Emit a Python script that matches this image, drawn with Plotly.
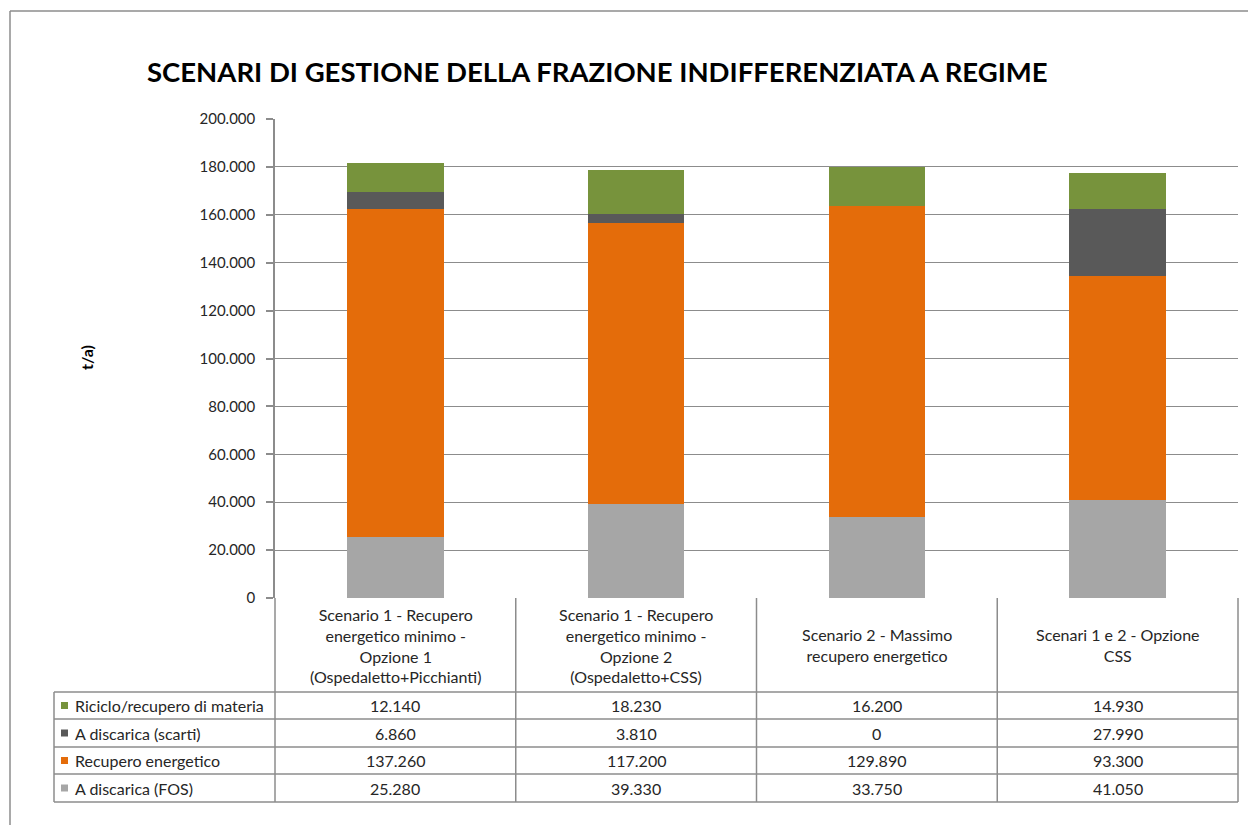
import plotly.graph_objects as go

# --- data -------------------------------------------------------------
CATEGORIES = [
    "Scenario 1 - Recupero<br>energetico minimo -<br>Opzione 1<br>(Ospedaletto+Picchianti)",
    "Scenario 1 - Recupero<br>energetico minimo -<br>Opzione 2<br>(Ospedaletto+CSS)",
    "Scenario 2 - Massimo<br>recupero energetico",
    "Scenari 1 e 2 - Opzione<br>CSS",
]
SERIES_NAMES = [
    "Riciclo/recupero di materia",
    "A discarica (scarti)",
    "Recupero energetico",
    "A discarica (FOS)",
]
RICICLO = [12140, 18230, 16200, 14930]
SCARTI = [6860, 3810, 0, 27990]
RECUPERO = [137260, 117200, 129890, 93300]
FOS = [25280, 39330, 33750, 41050]
Y_TICKS = [0, 20000, 40000, 60000, 80000, 100000, 120000, 140000, 160000, 180000, 200000]

COLORS = {
    "Riciclo/recupero di materia": "#77933C",
    "A discarica (scarti)": "#595959",
    "Recupero energetico": "#E46C0A",
    "A discarica (FOS)": "#A6A6A6",
}
VALUES = {
    "Riciclo/recupero di materia": RICICLO,
    "A discarica (scarti)": SCARTI,
    "Recupero energetico": RECUPERO,
    "A discarica (FOS)": FOS,
}

# --- geometry (pixels) ------------------------------------------------
W, H = 1248, 825
PL, PR, PT, PB = 275, 1238, 119, 598  # plot area
FONT = "Lato"
TXT = "#262626"
LINE = "#8C8C8C"
TABLE_FONT = 16


def px(x):
    return (x - PL) / (PR - PL)


def py(y):
    return (PB - y) / (PB - PT)


def fmt(v):
    return f"{v:,}".replace(",", ".")


fig = go.Figure()

# stacked bars, bottom to top
for name in reversed(SERIES_NAMES):
    fig.add_trace(go.Bar(
        x=CATEGORIES, y=VALUES[name], name=name,
        marker=dict(color=COLORS[name], line=dict(width=0)),
        width=0.4, showlegend=False, hoverinfo="x+y+name",
    ))

shapes = []
annotations = []

# outer frame of the chart object
shapes.append(dict(type="line", xref="paper", yref="paper",
                   x0=px(10), x1=px(W + 5), y0=py(11), y1=py(11),
                   line=dict(color=LINE, width=1.5)))
shapes.append(dict(type="line", xref="paper", yref="paper",
                   x0=px(10), x1=px(10), y0=py(11), y1=py(H + 5),
                   line=dict(color=LINE, width=1.5)))

# data table below the plot
col_edges = [PL + i * (PR - PL) / 4 for i in range(5)]
TBL_LEFT = 54
HEAD_BOTTOM = 692
row_edges = [692, 719, 747, 774, 802]

for x in col_edges:
    shapes.append(dict(type="line", xref="paper", yref="paper",
                       x0=px(x), x1=px(x), y0=py(PB), y1=py(row_edges[-1]),
                       line=dict(color=LINE, width=1.5)))
shapes.append(dict(type="line", xref="paper", yref="paper",
                   x0=px(TBL_LEFT), x1=px(TBL_LEFT), y0=py(HEAD_BOTTOM), y1=py(row_edges[-1]),
                   line=dict(color=LINE, width=1.5)))
for y in row_edges:
    shapes.append(dict(type="line", xref="paper", yref="paper",
                       x0=px(TBL_LEFT), x1=px(PR), y0=py(y), y1=py(y),
                       line=dict(color=LINE, width=1.5)))

# column headers
for i, cat in enumerate(CATEGORIES):
    cx = (col_edges[i] + col_edges[i + 1]) / 2
    annotations.append(dict(xref="paper", yref="paper", x=px(cx), y=py((PB + HEAD_BOTTOM) / 2),
                            text=cat, showarrow=False, xanchor="center", yanchor="middle",
                            align="center", font=dict(family=FONT, size=TABLE_FONT, color=TXT)))

# rows: legend key, series name, values
for r, name in enumerate(SERIES_NAMES):
    cy = (row_edges[r] + row_edges[r + 1]) / 2
    shapes.append(dict(type="rect", xref="paper", yref="paper",
                       x0=px(61), x1=px(68), y0=py(cy - 3.5), y1=py(cy + 3.5),
                       fillcolor=COLORS[name], line=dict(width=0)))
    annotations.append(dict(xref="paper", yref="paper", x=px(73), y=py(cy),
                            text=name, showarrow=False, xanchor="left", yanchor="middle",
                            font=dict(family=FONT, size=TABLE_FONT, color=TXT)))
    for i, v in enumerate(VALUES[name]):
        cx = (col_edges[i] + col_edges[i + 1]) / 2
        annotations.append(dict(xref="paper", yref="paper", x=px(cx), y=py(cy),
                                text=fmt(v), showarrow=False, xanchor="center", yanchor="middle",
                                font=dict(family=FONT, size=TABLE_FONT, color=TXT)))

# title and y-axis label
annotations.append(dict(xref="paper", yref="paper", x=px(597), y=py(72),
                        text="<b>SCENARI DI GESTIONE DELLA FRAZIONE INDIFFERENZIATA A REGIME</b>",
                        showarrow=False, xanchor="center", yanchor="middle",
                        font=dict(family=FONT, size=27.5, color="#000000")))
annotations.append(dict(xref="paper", yref="paper", x=px(86), y=py(358),
                        text="<b>t/a)</b>", textangle=-90, showarrow=False,
                        xanchor="center", yanchor="middle",
                        font=dict(family=FONT, size=16, color="#000000")))

fig.update_layout(
    width=W, height=H,
    margin=dict(l=PL, r=W - PR, t=PT, b=H - PB, pad=0),
    barmode="stack",
    paper_bgcolor="white", plot_bgcolor="white",
    separators=",.",
    shapes=shapes, annotations=annotations,
    font=dict(family=FONT, size=15, color=TXT),
)
fig.update_xaxes(showticklabels=False, ticks="", showgrid=False, showline=False,
                 zeroline=False, fixedrange=True)
fig.update_yaxes(range=[0, 200000], tickvals=Y_TICKS, tickformat=",d",
                 showgrid=True, gridcolor=LINE, gridwidth=1,
                 showline=True, linecolor=LINE, linewidth=1.5,
                 ticks="outside", ticklen=7, tickcolor=LINE, tickwidth=1.5,
                 zeroline=False, ticklabelstandoff=8,
                 tickfont=dict(family=FONT, size=15, color=TXT))

fig.write_html("out.html")
